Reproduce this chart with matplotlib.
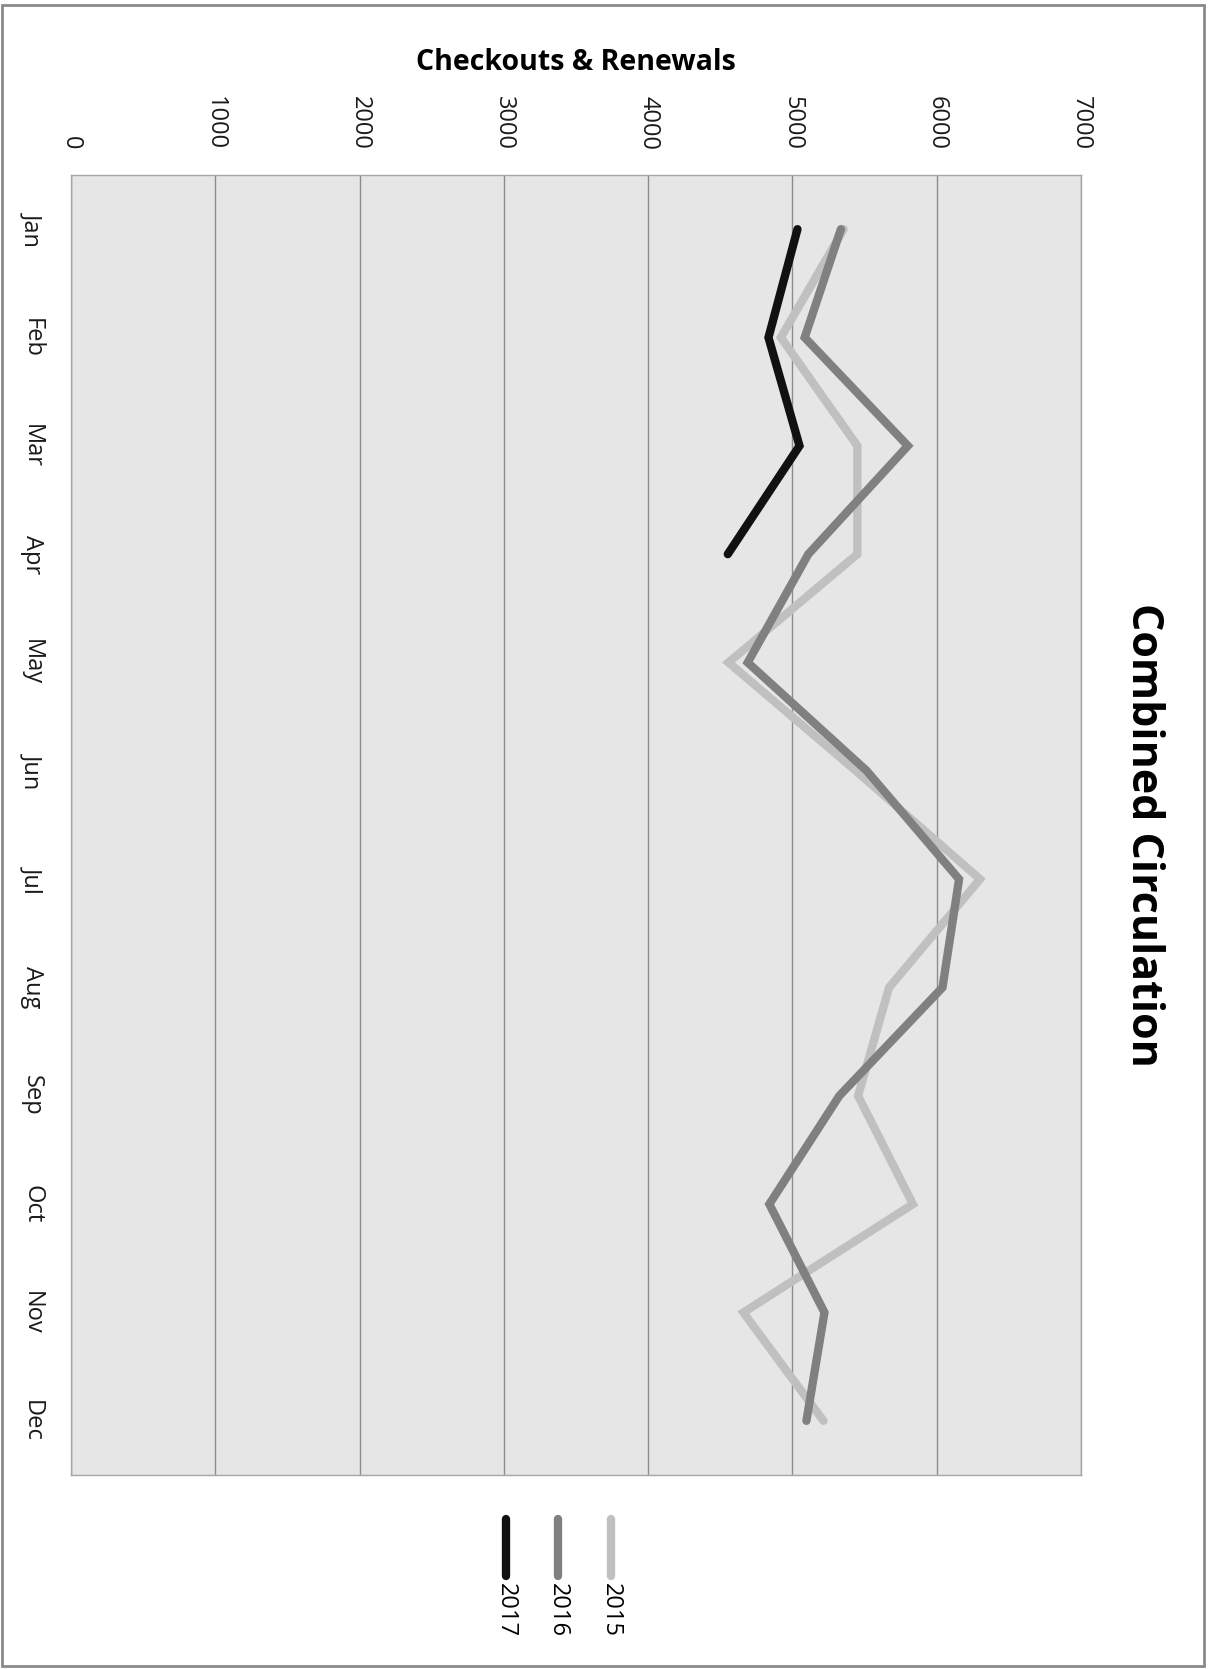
import matplotlib
matplotlib.use("Agg")
import matplotlib.pyplot as plt
from matplotlib.lines import Line2D
from matplotlib.patches import Rectangle

plt.rcParams['font.family'] = ['Open Sans', 'DejaVu Sans']

months = ['Jan', 'Feb', 'Mar', 'Apr', 'May', 'Jun',
          'Jul', 'Aug', 'Sep', 'Oct', 'Nov', 'Dec']
circ_2015 = [5355, 4920, 5450, 5450, 4557, 5440, 6300, 5670, 5455, 5835, 4660, 5215]
circ_2016 = [5336, 5085, 5800, 5110, 4690, 5515, 6155, 6040, 5325, 4840, 5222, 5097]
circ_2017 = [5035, 4834, 5049, 4552]
years = ['2015', '2016', '2017']
colors = ['#c0c0c0', '#808080', '#111111']
ticks = [0, 1000, 2000, 3000, 4000, 5000, 6000, 7000]

W, H = 1209, 1669
fig = plt.figure(figsize=(W / 100, H / 100), dpi=100)
ax = fig.add_axes([71 / W, 1 - 1475 / H, 1010 / W, 1300 / H])
ax.set_facecolor('#e6e6e6')

# chart is drawn turned on its side: values run across, months run down
pos = list(range(len(months)))
for vals, col, yr in zip([circ_2015, circ_2016, circ_2017], colors, years):
    ax.plot(vals, pos[:len(vals)], color=col, lw=6,
            solid_capstyle='round', solid_joinstyle='miter', label=yr)

ax.set_xlim(0, 7000)
ax.set_ylim(11.5, -0.5)
ax.set_xticks(ticks)
ax.set_xticklabels([str(t) for t in ticks], rotation=270, fontsize=17)
ax.xaxis.tick_top()
ax.tick_params(axis='x', length=0, pad=18, colors='#1a1a1a')
ax.set_yticks(pos)
ax.set_yticklabels(months, rotation=270, fontsize=17, ha='center', va='center')
ax.tick_params(axis='y', length=0, pad=28, colors='#1a1a1a')
ax.grid(axis='x', color='#8c8c8c', lw=1)
ax.set_axisbelow(True)
for s in ax.spines.values():
    s.set_color('#a6a6a6')
    s.set_linewidth(1)

fig.text(576 / W, 1 - 62 / H, 'Checkouts & Renewals', ha='center', va='center',
         fontsize=20.5, fontweight='bold')
fig.text(1144 / W, 1 - 835 / H, 'Combined Circulation', rotation=270,
         ha='center', va='center', fontsize=31, fontweight='bold')

# legend, also on its side
for x, yr, col in zip([611, 558, 506], years, colors):
    fig.add_artist(Line2D([x / W, x / W], [1 - 1519 / H, 1 - 1576 / H],
                          color=col, lw=6, solid_capstyle='round'))
    fig.text(x / W, 1 - 1583 / H, yr, rotation=270, ha='center', va='top',
             fontsize=17)

fig.add_artist(Rectangle((0.002, 0.002), 0.994, 0.995, transform=fig.transFigure,
                         fill=False, edgecolor='#8a8a8a', lw=2))

fig.savefig('out.png', dpi=100)
